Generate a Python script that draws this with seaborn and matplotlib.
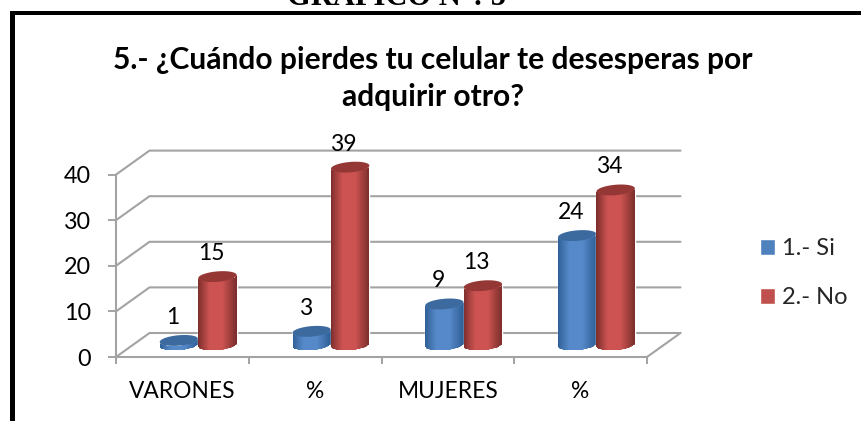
import numpy as np
import pandas as pd
import matplotlib
matplotlib.use("Agg")
import matplotlib.pyplot as plt
import seaborn as sns
from matplotlib.colors import LinearSegmentedColormap
from matplotlib.patches import Polygon, Rectangle
from matplotlib.path import Path
from matplotlib.transforms import Affine2D

categories = ["VARONES", "% varones", "MUJERES", "% mujeres"]
tick_labels = ["VARONES", "%", "MUJERES", "%"]
series_names = ["1.- Si", "2.- No"]
si_values = [1, 3, 9, 24]
no_values = [15, 39, 13, 34]
title_text = "5.- ¿Cuándo pierdes tu celular te desesperas por\nadquirir otro?"
header_text = "GRAFICO N°: 5"

W, H = 862, 421
sns.set_theme(style="white")
plt.rcParams["font.family"] = ["Lato", "DejaVu Sans"]
GRID = "#a3a3a3"
FS = 16.8

df = pd.DataFrame({
    "categoria": categories * 2,
    "respuesta": [series_names[0]] * 4 + [series_names[1]] * 4,
    "valor": si_values + no_values,
})

fig = plt.figure(figsize=(W / 100, H / 100), dpi=100, facecolor="white")
ax = fig.add_axes([116 / W, (H - 357) / H, 531 / W, 182.4 / H])
ax.patch.set_alpha(0)
sns.barplot(data=df, x="categoria", y="valor", hue="respuesta", order=categories,
            hue_order=series_names, palette=["#4f81bd", "#c0504d"], saturation=1,
            width=0.58, gap=0, errorbar=None, ax=ax, zorder=3)

px_x = 531 / 4.0    # pixels per category
px_y = 182.4 / 40   # pixels per value unit
ax.set_xlim(-0.5, 3.5)
ax.set_ylim(0, 40)

# Perspective walls
dx, dv = 33.5 / px_x, 24 / px_y
xl, xr = -0.5, 3.5
for v in [0, 10, 20, 30, 40]:
    ax.plot([xl, xl + dx, xr + dx], [v, v + dv, v + dv], color=GRID, lw=1.5,
            clip_on=False, zorder=1, solid_joinstyle="miter")
ax.plot([xr, xr + dx], [0, dv], color=GRID, lw=1.5, clip_on=False, zorder=1)

for s in ["top", "right"]:
    ax.spines[s].set_visible(False)
for s in ["left", "bottom"]:
    ax.spines[s].set_color(GRID)
    ax.spines[s].set_linewidth(1.5)
ax.set_xlabel("")
ax.set_ylabel("")
ax.set_yticks([0, 10, 20, 30, 40])
ax.set_xticks(np.arange(-0.5, 4.0, 1.0))
ax.set_xticklabels([])
ax.set_xticks(np.arange(0, 4), labels=tick_labels, minor=True)
ax.tick_params(axis="y", left=True, length=5.8, width=1.4, color=GRID, pad=12,
               labelsize=FS, labelcolor="black")
ax.tick_params(axis="x", which="major", bottom=True, length=5.2, width=1.4, color=GRID)
ax.tick_params(axis="x", which="minor", bottom=False, length=0, pad=17.5,
               labelsize=FS - 0.4, labelcolor="black")

# Bars sit half-way into the depth of the floor
tr = Affine2D().translate(15.8 / px_x, 12 / px_y) + ax.transData


def ellipse(xc, v, a, b, t, tilt=np.deg2rad(5)):
    ex = a * np.cos(t) * np.cos(tilt) - b * np.sin(t) * np.sin(tilt)
    ey = a * np.cos(t) * np.sin(tilt) + b * np.sin(t) * np.cos(tilt)
    return np.column_stack([xc + ex / px_x, v + ey / px_y])


edge_dark = {0: "#2f5f96", 1: "#7c2e2c"}
mid_light = {0: "#5689c9", 1: "#cc5351"}
top_col = {0: "#3c6a9e", 1: "#953735"}

for i, cont in enumerate(ax.containers):
    cmap = LinearSegmentedColormap.from_list(
        f"c{i}", [edge_dark[i], mid_light[i], mid_light[i], edge_dark[i]])
    for j, bar in enumerate(cont):
        z = 3 + j * 0.1 + i * 0.05
        v = bar.get_height()
        x0, w = bar.get_x(), bar.get_width()
        xc = x0 + w / 2
        a, b = w * px_x / 2, 5.2
        bar.set_transform(tr)
        bar.set_clip_on(False)
        bar.set_zorder(z)
        lower = ellipse(xc, 0, a, b, np.linspace(np.pi, 2 * np.pi, 40))
        upper = ellipse(xc, v, a, b, np.linspace(2 * np.pi, np.pi, 40))
        verts = np.vstack([lower, upper, lower[:1]])
        clip = Path(verts, closed=True)
        xs = np.linspace(x0, x0 + w, 61)
        vtop = v + 8 / px_y
        mesh = ax.pcolormesh(xs, [-8 / px_y, vtop],
                             np.linspace(0, 1, 60)[None, :] ** 0.9,
                             cmap=cmap, shading="flat", zorder=z + 0.01,
                             transform=tr, antialiased=False)
        mesh.set_clip_box(fig.bbox)
        mesh.set_clip_path(clip, transform=tr)
        cap = ellipse(xc, v, a, b, np.linspace(0, 2 * np.pi, 80))
        ax.add_patch(Polygon(cap, closed=True, facecolor=top_col[i], edgecolor="none",
                             transform=tr, clip_on=False, zorder=z + 0.02))
        ax.annotate(f"{v:.0f}", xy=(xc, v), xycoords=tr,
                    xytext=(-6.5 * 0.72, 23 * 0.72), textcoords="offset points",
                    ha="center", va="center", fontsize=FS - 0.3, color="black",
                    annotation_clip=False, zorder=8)

ax.set_xlim(-0.5, 3.5)
ax.set_ylim(0, 40)

handles, labels = ax.get_legend_handles_labels()
ax.legend(handles, labels, loc="upper left", bbox_to_anchor=(753 / W, (H - 231) / H),
          bbox_transform=fig.transFigure, frameon=False, fontsize=FS + 0.2,
          handlelength=0.64, handleheight=0.64, handletextpad=0.3, labelspacing=1.2,
          borderpad=0.3, borderaxespad=0)

fig.text(433 / W, (H - 78.5) / H, title_text, ha="center", va="center", fontsize=21.6,
         fontweight="bold", color="black", linespacing=1.42)
fig.text(397 / W, (H - 5) / H, header_text, ha="center", va="baseline", fontsize=22,
         fontweight="bold", color="black", family="Liberation Serif")

# Outer frame, open at right and bottom
fig.add_artist(Rectangle((10 / W, (H - 15) / H), (W - 10) / W, 4 / H, transform=fig.transFigure,
                         facecolor="black", edgecolor="none"))
fig.add_artist(Rectangle((10 / W, 0), 5 / W, (H - 11) / H, transform=fig.transFigure,
                         facecolor="black", edgecolor="none"))

fig.savefig("out.png", dpi=100)
